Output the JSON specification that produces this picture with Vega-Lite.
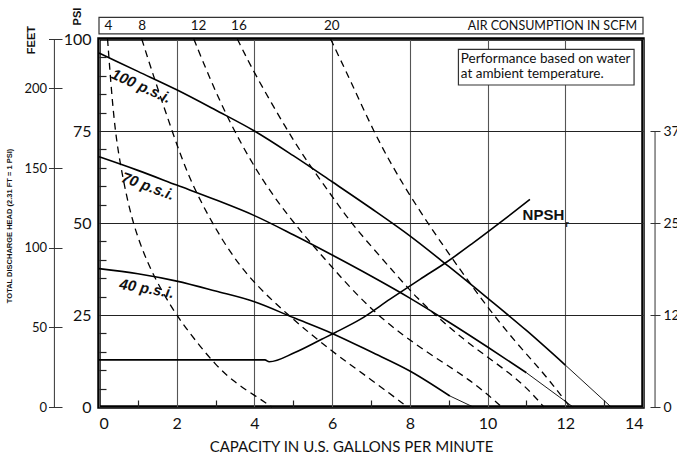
{
  "$schema": "https://vega.github.io/schema/vega-lite/v6.json",
  "width": 544,
  "height": 368,
  "autosize": {"type": "none"},
  "padding": {"left": 99, "top": 39, "right": 34, "bottom": 49},
  "config": {
    "view": {"stroke": "#000", "strokeWidth": 3.5},
    "font": "Lato",
    "axis": {"labelColor": "#111", "titleColor": "#111", "labelFont": "Lato", "titleFont": "Lato"},
    "text": {"font": "Lato", "color": "#111"}
  },
  "datasets": {
    "curves": [
      {"curve": "100 psi", "kind": "pressure", "x": 0, "y": 96.2},
      {"curve": "100 psi", "kind": "pressure", "x": 1, "y": 91.2},
      {"curve": "100 psi", "kind": "pressure", "x": 2, "y": 86.2},
      {"curve": "100 psi", "kind": "pressure", "x": 3, "y": 80.7},
      {"curve": "100 psi", "kind": "pressure", "x": 4, "y": 75},
      {"curve": "100 psi", "kind": "pressure", "x": 5, "y": 68.3},
      {"curve": "100 psi", "kind": "pressure", "x": 6, "y": 61.2},
      {"curve": "100 psi", "kind": "pressure", "x": 7, "y": 54},
      {"curve": "100 psi", "kind": "pressure", "x": 8, "y": 46.5},
      {"curve": "100 psi", "kind": "pressure", "x": 9, "y": 38.2},
      {"curve": "100 psi", "kind": "pressure", "x": 10, "y": 29.6},
      {"curve": "100 psi", "kind": "pressure", "x": 11, "y": 20.8},
      {"curve": "100 psi", "kind": "pressure", "x": 12, "y": 11.4},
      {"curve": "100 psi ext", "kind": "extension", "x": 12, "y": 11.4},
      {"curve": "100 psi ext", "kind": "extension", "x": 13.18, "y": 0},
      {"curve": "70 psi", "kind": "pressure", "x": 0, "y": 68},
      {"curve": "70 psi", "kind": "pressure", "x": 1, "y": 64.3},
      {"curve": "70 psi", "kind": "pressure", "x": 2, "y": 60.3},
      {"curve": "70 psi", "kind": "pressure", "x": 3, "y": 56.3},
      {"curve": "70 psi", "kind": "pressure", "x": 4, "y": 52},
      {"curve": "70 psi", "kind": "pressure", "x": 5, "y": 46.8},
      {"curve": "70 psi", "kind": "pressure", "x": 6, "y": 41.3},
      {"curve": "70 psi", "kind": "pressure", "x": 7, "y": 35.6},
      {"curve": "70 psi", "kind": "pressure", "x": 8, "y": 29.6},
      {"curve": "70 psi", "kind": "pressure", "x": 9, "y": 23.1},
      {"curve": "70 psi", "kind": "pressure", "x": 10, "y": 16.3},
      {"curve": "70 psi", "kind": "pressure", "x": 11, "y": 9.3},
      {"curve": "70 psi ext", "kind": "extension", "x": 11, "y": 9.3},
      {"curve": "70 psi ext", "kind": "extension", "x": 12.2, "y": 0},
      {"curve": "40 psi", "kind": "pressure", "x": 0, "y": 37.6},
      {"curve": "40 psi", "kind": "pressure", "x": 1, "y": 36.2},
      {"curve": "40 psi", "kind": "pressure", "x": 2, "y": 34.2},
      {"curve": "40 psi", "kind": "pressure", "x": 3, "y": 31.5},
      {"curve": "40 psi", "kind": "pressure", "x": 4, "y": 28.6},
      {"curve": "40 psi", "kind": "pressure", "x": 5, "y": 24.3},
      {"curve": "40 psi", "kind": "pressure", "x": 6, "y": 20},
      {"curve": "40 psi", "kind": "pressure", "x": 7, "y": 15},
      {"curve": "40 psi", "kind": "pressure", "x": 8, "y": 9.8},
      {"curve": "40 psi", "kind": "pressure", "x": 9.03, "y": 3},
      {"curve": "40 psi ext", "kind": "extension", "x": 9.03, "y": 3},
      {"curve": "40 psi ext", "kind": "extension", "x": 9.63, "y": 0},
      {"curve": "NPSHr", "kind": "npsh", "x": 0, "y": 12.8},
      {"curve": "NPSHr", "kind": "npsh", "x": 4.27, "y": 12.8},
      {"curve": "NPSHr", "kind": "npsh", "x": 4.38, "y": 12.3},
      {"curve": "NPSHr", "kind": "npsh", "x": 5.04, "y": 14.8},
      {"curve": "NPSHr", "kind": "npsh", "x": 5.73, "y": 18.4},
      {"curve": "NPSHr", "kind": "npsh", "x": 6.07, "y": 20.2},
      {"curve": "NPSHr", "kind": "npsh", "x": 6.72, "y": 23.8},
      {"curve": "NPSHr", "kind": "npsh", "x": 7.49, "y": 29.3},
      {"curve": "NPSHr", "kind": "npsh", "x": 8.26, "y": 34.7},
      {"curve": "NPSHr", "kind": "npsh", "x": 8.95, "y": 39.4},
      {"curve": "NPSHr", "kind": "npsh", "x": 9.63, "y": 44.6},
      {"curve": "NPSHr", "kind": "npsh", "x": 10.32, "y": 50.1},
      {"curve": "NPSHr", "kind": "npsh", "x": 11.09, "y": 56.4},
      {"curve": "4 SCFM", "kind": "air", "x": 0.22, "y": 100},
      {"curve": "4 SCFM", "kind": "air", "x": 0.31, "y": 87.2},
      {"curve": "4 SCFM", "kind": "air", "x": 0.41, "y": 75.5},
      {"curve": "4 SCFM", "kind": "air", "x": 0.55, "y": 65.5},
      {"curve": "4 SCFM", "kind": "air", "x": 0.85, "y": 50},
      {"curve": "4 SCFM", "kind": "air", "x": 1.27, "y": 38.5},
      {"curve": "4 SCFM", "kind": "air", "x": 1.62, "y": 31.5},
      {"curve": "4 SCFM", "kind": "air", "x": 2, "y": 24.8},
      {"curve": "4 SCFM", "kind": "air", "x": 2.47, "y": 18.2},
      {"curve": "4 SCFM", "kind": "air", "x": 3, "y": 11.4},
      {"curve": "4 SCFM", "kind": "air", "x": 3.5, "y": 6.6},
      {"curve": "4 SCFM", "kind": "air", "x": 4, "y": 3.2},
      {"curve": "4 SCFM", "kind": "air", "x": 4.45, "y": 0},
      {"curve": "8 SCFM", "kind": "air", "x": 1.1, "y": 100},
      {"curve": "8 SCFM", "kind": "air", "x": 1.4, "y": 90},
      {"curve": "8 SCFM", "kind": "air", "x": 1.88, "y": 75},
      {"curve": "8 SCFM", "kind": "air", "x": 2.3, "y": 62.5},
      {"curve": "8 SCFM", "kind": "air", "x": 2.9, "y": 50},
      {"curve": "8 SCFM", "kind": "air", "x": 3.7, "y": 36.5},
      {"curve": "8 SCFM", "kind": "air", "x": 4.85, "y": 25},
      {"curve": "8 SCFM", "kind": "air", "x": 6, "y": 15},
      {"curve": "8 SCFM", "kind": "air", "x": 7, "y": 7.5},
      {"curve": "8 SCFM", "kind": "air", "x": 7.94, "y": 0},
      {"curve": "12 SCFM", "kind": "air", "x": 2.44, "y": 100},
      {"curve": "12 SCFM", "kind": "air", "x": 2.9, "y": 88},
      {"curve": "12 SCFM", "kind": "air", "x": 3.47, "y": 75},
      {"curve": "12 SCFM", "kind": "air", "x": 4.2, "y": 61.5},
      {"curve": "12 SCFM", "kind": "air", "x": 5, "y": 50},
      {"curve": "12 SCFM", "kind": "air", "x": 5.95, "y": 38.5},
      {"curve": "12 SCFM", "kind": "air", "x": 7.1, "y": 25},
      {"curve": "12 SCFM", "kind": "air", "x": 8.52, "y": 14.2},
      {"curve": "12 SCFM", "kind": "air", "x": 9.55, "y": 7.5},
      {"curve": "12 SCFM", "kind": "air", "x": 10.37, "y": 0},
      {"curve": "16 SCFM", "kind": "air", "x": 3.56, "y": 100},
      {"curve": "16 SCFM", "kind": "air", "x": 3.98, "y": 91},
      {"curve": "16 SCFM", "kind": "air", "x": 4.85, "y": 75},
      {"curve": "16 SCFM", "kind": "air", "x": 5.4, "y": 66},
      {"curve": "16 SCFM", "kind": "air", "x": 5.95, "y": 58},
      {"curve": "16 SCFM", "kind": "air", "x": 6.45, "y": 50.5},
      {"curve": "16 SCFM", "kind": "air", "x": 7.06, "y": 43},
      {"curve": "16 SCFM", "kind": "air", "x": 7.66, "y": 35.8},
      {"curve": "16 SCFM", "kind": "air", "x": 8.18, "y": 29.6},
      {"curve": "16 SCFM", "kind": "air", "x": 8.78, "y": 23.8},
      {"curve": "16 SCFM", "kind": "air", "x": 9.38, "y": 18.4},
      {"curve": "16 SCFM", "kind": "air", "x": 9.98, "y": 13.7},
      {"curve": "16 SCFM", "kind": "air", "x": 10.58, "y": 9.1},
      {"curve": "16 SCFM", "kind": "air", "x": 11.05, "y": 4.8},
      {"curve": "16 SCFM", "kind": "air", "x": 11.45, "y": 0},
      {"curve": "20 SCFM", "kind": "air", "x": 5.96, "y": 100},
      {"curve": "20 SCFM", "kind": "air", "x": 6.48, "y": 88.5},
      {"curve": "20 SCFM", "kind": "air", "x": 7.06, "y": 75},
      {"curve": "20 SCFM", "kind": "air", "x": 7.66, "y": 63.2},
      {"curve": "20 SCFM", "kind": "air", "x": 8.45, "y": 50},
      {"curve": "20 SCFM", "kind": "air", "x": 9.3, "y": 37.2},
      {"curve": "20 SCFM", "kind": "air", "x": 9.95, "y": 27.8},
      {"curve": "20 SCFM", "kind": "air", "x": 10.7, "y": 17.8},
      {"curve": "20 SCFM", "kind": "air", "x": 11.45, "y": 9.2},
      {"curve": "20 SCFM", "kind": "air", "x": 12.12, "y": 0}
    ],
    "scfm": [
      {"scfm": "4", "x": 0.24},
      {"scfm": "8", "x": 1.11},
      {"scfm": "12", "x": 2.56},
      {"scfm": "16", "x": 3.6},
      {"scfm": "20", "x": 5.99}
    ]
  },
  "layer": [
    {
      "data": {"name": "curves"},
      "transform": [{"filter": "datum.kind == 'pressure'"}],
      "mark": {"type": "line", "interpolate": "monotone", "color": "#000", "strokeWidth": 1.6},
      "encoding": {
        "x": {"field": "x", "type": "quantitative", "scale": {"domain": [0, 14], "nice": false, "zero": false},
          "axis": {"orient": "bottom", "values": [0, 2, 4, 6, 8, 10, 12, 14], "grid": true, "gridColor": "#555", "gridWidth": 1.1,
            "ticks": false, "domain": false, "labelFontSize": 16, "labelPadding": 8,
            "title": "CAPACITY IN U.S. GALLONS PER MINUTE", "titleFontSize": 15, "titleFontWeight": "normal", "titlePadding": 8, "titleX": 252}},
        "y": {"field": "y", "type": "quantitative", "scale": {"domain": [0, 100], "nice": false, "zero": false},
          "axis": {"orient": "left", "values": [0, 25, 50, 75, 100], "grid": true, "gridColor": "#222", "gridWidth": 1.1,
            "ticks": false, "domain": false, "labelFontSize": 16, "labelPadding": 8, "title": null}},
        "detail": {"field": "curve"}
      }
    },
    {
      "data": {"name": "curves"},
      "transform": [{"filter": "datum.kind == 'extension'"}],
      "mark": {"type": "line", "color": "#000", "strokeWidth": 0.9},
      "encoding": {
        "x": {"field": "x", "type": "quantitative", "scale": {"domain": [0, 14], "nice": false, "zero": false}, "axis": null},
        "y": {"field": "y", "type": "quantitative", "scale": {"domain": [0, 100], "nice": false, "zero": false}, "axis": null},
        "detail": {"field": "curve"}
      }
    },
    {
      "data": {"name": "curves"},
      "transform": [{"filter": "datum.kind == 'air'"}],
      "mark": {"type": "line", "interpolate": "basis", "color": "#000", "strokeWidth": 1.3, "strokeDash": [7, 5]},
      "encoding": {
        "x": {"field": "x", "type": "quantitative", "scale": {"domain": [0, 14], "nice": false, "zero": false}, "axis": null},
        "y": {"field": "y", "type": "quantitative", "scale": {"domain": [0, 100], "nice": false, "zero": false}, "axis": null},
        "detail": {"field": "curve"}
      }
    },
    {
      "data": {"name": "curves"},
      "transform": [{"filter": "datum.kind == 'npsh'"}],
      "mark": {"type": "line", "interpolate": "monotone", "color": "#000", "strokeWidth": 1.6},
      "encoding": {
        "x": {"field": "x", "type": "quantitative", "scale": {"domain": [0, 14], "nice": false, "zero": false}, "axis": null},
        "y": {"field": "y", "type": "quantitative", "scale": {"domain": [0, 100], "nice": false, "zero": false}, "axis": null}
      }
    },
    {
      "data": {"values": [{}]},
      "mark": {"type": "rect", "fill": "#fff", "stroke": "#333", "strokeWidth": 1.2},
      "encoding": {
        "x": {"datum": 0, "type": "quantitative", "scale": {"domain": [0, 14], "nice": false, "zero": false},
          "axis": {"orient": "bottom", "values": [1, 3, 5, 7, 9, 11, 13], "tickSize": -7, "tickColor": "#222", "tickWidth": 1.2, "labels": false, "domain": false, "grid": false, "title": null}},
        "x2": {"datum": 14},
        "y": {"datum": 101.4, "type": "quantitative", "scale": {"domain": [0, 100], "nice": false, "zero": false},
          "axis": {"orient": "left", "values": [5, 10, 15, 20, 30, 35, 40, 45, 55, 60, 65, 70, 80, 85, 90, 95], "tickSize": -7, "tickColor": "#222", "tickWidth": 1.2, "labels": false, "domain": false, "grid": false, "title": null}},
        "y2": {"datum": 105.9}
      }
    },
    {
      "data": {"values": [{}]},
      "mark": {"type": "rule", "color": "#333", "strokeWidth": 1},
      "encoding": {
        "x": {"datum": -1.148, "type": "quantitative", "scale": {"domain": [0, 14], "nice": false, "zero": false}, "axis": null},
        "y": {"datum": 0, "type": "quantitative", "scale": {"domain": [0, 100], "nice": false, "zero": false},
          "axis": {"orient": "left", "offset": 37, "values": [0, 21.645, 43.29, 64.935, 86.58, 100],
            "labelExpr": "datum.value > 99 ? '' : format(datum.value * 2.31, '.0f')",
            "tickSize": 13.5, "tickColor": "#333", "tickWidth": 1, "domain": false, "grid": false, "labelFontSize": 13, "labelPadding": 2, "title": null}},
        "y2": {"datum": 100}
      }
    },
    {
      "data": {"values": [{}]},
      "mark": {"type": "rule", "color": "#333", "strokeWidth": 1},
      "encoding": {
        "x": {"datum": 14.31, "type": "quantitative", "scale": {"domain": [0, 14], "nice": false, "zero": false}, "axis": null},
        "y": {"datum": 0, "type": "quantitative", "scale": {"domain": [0, 100], "nice": false, "zero": false},
          "axis": {"orient": "right", "offset": 7, "values": [0, 25, 50, 75],
            "labelExpr": "'' + (datum.value / 2)",
            "tickSize": 10, "tickColor": "#333", "tickWidth": 1, "domain": false, "grid": false, "labelFontSize": 14, "labelPadding": 3, "title": null}},
        "y2": {"datum": 75}
      }
    },
    {
      "data": {"name": "scfm"},
      "mark": {"type": "text", "fontSize": 13.5, "align": "center", "baseline": "middle"},
      "encoding": {
        "x": {"field": "x", "type": "quantitative", "scale": {"domain": [0, 14], "nice": false, "zero": false}, "axis": null},
        "y": {"datum": 103.6, "type": "quantitative", "scale": {"domain": [0, 100], "nice": false, "zero": false}, "axis": null},
        "text": {"field": "scfm"}
      }
    },
    {
      "data": {"values": [{}]},
      "mark": {"type": "text", "text": "AIR CONSUMPTION IN SCFM", "fontSize": 12.5, "align": "right", "baseline": "middle"},
      "encoding": {
        "x": {"datum": 13.85, "type": "quantitative", "scale": {"domain": [0, 14], "nice": false, "zero": false}, "axis": null},
        "y": {"datum": 103.6, "type": "quantitative", "scale": {"domain": [0, 100], "nice": false, "zero": false}, "axis": null}
      }
    },
    {
      "data": {"values": [{}]},
      "mark": {"type": "rect", "fill": "#fff", "stroke": "#333", "strokeWidth": 1.2},
      "encoding": {
        "x": {"datum": 9.25, "type": "quantitative", "scale": {"domain": [0, 14], "nice": false, "zero": false}, "axis": null},
        "x2": {"datum": 13.77},
        "y": {"datum": 87.5, "type": "quantitative", "scale": {"domain": [0, 100], "nice": false, "zero": false}, "axis": null},
        "y2": {"datum": 97.2}
      }
    },
    {
      "data": {"values": [{}]},
      "mark": {"type": "text", "text": ["Performance based on water", "at ambient temperature."], "fontSize": 13.5, "lineHeight": 15, "align": "left", "baseline": "middle"},
      "encoding": {
        "x": {"datum": 9.31, "type": "quantitative", "scale": {"domain": [0, 14], "nice": false, "zero": false}, "axis": null},
        "y": {"datum": 94.5, "type": "quantitative", "scale": {"domain": [0, 100], "nice": false, "zero": false}, "axis": null}
      }
    },
    {
      "data": {"values": [{}]},
      "mark": {"type": "text", "text": "100 p.s.i.", "font": "Liberation Sans Narrow, Liberation Sans", "fontWeight": "bold", "fontStyle": "italic", "fontSize": 15, "angle": 24, "align": "center", "baseline": "middle"},
      "encoding": {
        "x": {"datum": 1.09, "type": "quantitative", "scale": {"domain": [0, 14], "nice": false, "zero": false}, "axis": null},
        "y": {"datum": 87.2, "type": "quantitative", "scale": {"domain": [0, 100], "nice": false, "zero": false}, "axis": null}
      }
    },
    {
      "data": {"values": [{}]},
      "mark": {"type": "text", "text": "70 p.s.i.", "font": "Liberation Sans Narrow, Liberation Sans", "fontWeight": "bold", "fontStyle": "italic", "fontSize": 15, "angle": 20, "align": "center", "baseline": "middle"},
      "encoding": {
        "x": {"datum": 1.26, "type": "quantitative", "scale": {"domain": [0, 14], "nice": false, "zero": false}, "axis": null},
        "y": {"datum": 60, "type": "quantitative", "scale": {"domain": [0, 100], "nice": false, "zero": false}, "axis": null}
      }
    },
    {
      "data": {"values": [{}]},
      "mark": {"type": "text", "text": "40 p.s.i.", "font": "Liberation Sans Narrow, Liberation Sans", "fontWeight": "bold", "fontStyle": "italic", "fontSize": 15, "angle": 10, "align": "center", "baseline": "middle"},
      "encoding": {
        "x": {"datum": 1.23, "type": "quantitative", "scale": {"domain": [0, 14], "nice": false, "zero": false}, "axis": null},
        "y": {"datum": 32.2, "type": "quantitative", "scale": {"domain": [0, 100], "nice": false, "zero": false}, "axis": null}
      }
    },
    {
      "data": {"values": [{}]},
      "mark": {"type": "text", "text": "NPSH", "font": "Liberation Sans Narrow, Liberation Sans", "fontWeight": "bold", "fontSize": 15, "align": "left", "baseline": "middle"},
      "encoding": {
        "x": {"datum": 10.9, "type": "quantitative", "scale": {"domain": [0, 14], "nice": false, "zero": false}, "axis": null},
        "y": {"datum": 52.1, "type": "quantitative", "scale": {"domain": [0, 100], "nice": false, "zero": false}, "axis": null}
      }
    },
    {
      "data": {"values": [{}]},
      "mark": {"type": "text", "text": "r", "font": "Liberation Sans Narrow, Liberation Sans", "fontWeight": "bold", "fontSize": 9, "align": "left", "baseline": "middle"},
      "encoding": {
        "x": {"datum": 12.0, "type": "quantitative", "scale": {"domain": [0, 14], "nice": false, "zero": false}, "axis": null},
        "y": {"datum": 49.6, "type": "quantitative", "scale": {"domain": [0, 100], "nice": false, "zero": false}, "axis": null}
      }
    },
    {
      "data": {"values": [{}]},
      "mark": {"type": "text", "text": "FEET", "fontWeight": "bold", "fontSize": 11, "angle": 270, "align": "center", "baseline": "middle", "font": "Liberation Sans"},
      "encoding": {
        "x": {"datum": -1.72, "type": "quantitative", "scale": {"domain": [0, 14], "nice": false, "zero": false}, "axis": null},
        "y": {"datum": 99.7, "type": "quantitative", "scale": {"domain": [0, 100], "nice": false, "zero": false}, "axis": null}
      }
    },
    {
      "data": {"values": [{}]},
      "mark": {"type": "text", "text": "PSI", "fontWeight": "bold", "fontSize": 11, "angle": 270, "align": "center", "baseline": "middle", "font": "Liberation Sans"},
      "encoding": {
        "x": {"datum": -0.54, "type": "quantitative", "scale": {"domain": [0, 14], "nice": false, "zero": false}, "axis": null},
        "y": {"datum": 106.1, "type": "quantitative", "scale": {"domain": [0, 100], "nice": false, "zero": false}, "axis": null}
      }
    },
    {
      "data": {"values": [{}]},
      "mark": {"type": "text", "text": "TOTAL DISCHARGE HEAD (2.31 FT = 1 PSI)", "fontWeight": "bold", "fontSize": 7.5, "angle": 270, "align": "center", "baseline": "middle", "font": "Liberation Sans Narrow, Liberation Sans"},
      "encoding": {
        "x": {"datum": -2.28, "type": "quantitative", "scale": {"domain": [0, 14], "nice": false, "zero": false}, "axis": null},
        "y": {"datum": 49.2, "type": "quantitative", "scale": {"domain": [0, 100], "nice": false, "zero": false}, "axis": null}
      }
    }
  ],
  "resolve": {"axis": {"x": "independent", "y": "independent"}}
}
